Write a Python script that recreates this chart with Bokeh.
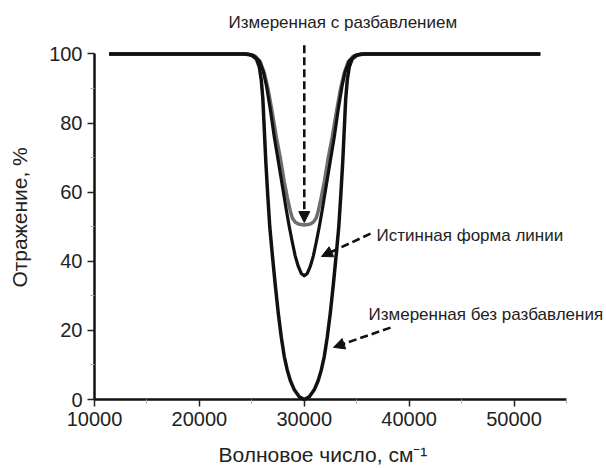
import math
from bokeh.plotting import figure
from bokeh.models import Range1d, FixedTicker, Label, Arrow, NormalHead
from bokeh.embed import file_html
from bokeh.resources import INLINE

# ---- data (wavenumber, cm-1 ; reflectance, %) ----
wn_diluted = [11400, 24660, 25330, 25810, 26190, 26570, 26950, 27330, 27710, 28090, 28380,
              28670, 28860, 29140, 29520, 30000, 30480, 30860, 31140, 31330, 31620, 31910,
              32290, 32670, 33050, 33430, 33810, 34190, 34670, 35340, 52500]
refl_diluted = [100, 100, 99.4, 97.7, 94.5, 89.5, 83, 76, 70, 63, 58.5,
                54.5, 52.5, 51.3, 50.7, 50.5, 50.7, 51.3, 52.5, 54.5, 58.5, 63,
                70, 76, 83, 89.5, 94.5, 97.7, 99.4, 100, 100]

wn_true = [11400, 24470, 25140, 25710, 26090, 26380, 26760, 27140, 27520, 27900, 28280,
           28570, 28860, 29140, 29430, 29710, 30000, 30290, 30570, 30860, 31140, 31430,
           31720, 32100, 32480, 32860, 33240, 33620, 33910, 34290, 34860, 35530, 52500]
refl_true = [100, 100, 99.6, 98, 95, 91, 84, 76, 69, 62, 55,
             50, 45.5, 41.5, 38.5, 36.5, 35.8, 36.5, 38.5, 41.5, 45.5, 50,
             55, 62, 69, 76, 84, 91, 95, 98, 99.6, 100, 100]

wn_undiluted = [11400, 24280, 24950, 25430, 25710, 25900, 26050, 26190, 26330, 26520, 26710,
                26950, 27240, 27520, 27810, 28090, 28380, 28670, 29050, 29520, 30000, 30480,
                30950, 31330, 31620, 31910, 32190, 32480, 32760, 33050, 33290, 33480, 33670,
                33810, 33950, 34100, 34290, 34570, 35050, 35720, 52500]
refl_undiluted = [100, 100, 99.7, 98.6, 96.3, 92.5, 87, 78, 69, 59, 50,
                  42, 33, 25, 18, 12.5, 8.5, 5.5, 2.8, 0.8, 0, 0.8,
                  2.8, 5.5, 8.5, 12.5, 18, 25, 33, 42, 50, 59, 69,
                  78, 87, 92.5, 96.3, 98.6, 99.7, 100, 100]

x_ticks = [10000, 20000, 30000, 40000, 50000]
x_minor = [15000, 25000, 35000, 45000, 55000]
y_ticks = [0, 20, 40, 60, 80, 100]
y_minor = [10, 30, 50, 70, 90]

label_diluted = "Измеренная с разбавлением"
label_true = "Истинная форма линии"
label_undiluted = "Измеренная без разбавления"
x_title = "Волновое число, см⁻¹"
y_title = "Отражение, %"

FONT = "Liberation Sans"
TXT = "#222222"

p = figure(width=606, height=468, output_backend="svg", toolbar_location=None,
           x_range=Range1d(1038, 58814), y_range=Range1d(-19.97, 115.48), min_border=0)
p.outline_line_color = None
p.xgrid.visible = False
p.ygrid.visible = False
p.background_fill_color = "white"
p.border_fill_color = "white"

for ax, ticks, minor, bnds, loc in ((p.xaxis[0], x_ticks, x_minor, (10000, 55000), 0),
                                    (p.yaxis[0], y_ticks, y_minor, (0, 100), 10000)):
    ax.fixed_location = loc
    ax.ticker = FixedTicker(ticks=ticks, minor_ticks=minor)
    ax.bounds = bnds
    ax.axis_line_width = 2.5
    ax.axis_line_color = "#111111"
    ax.major_tick_out = 7
    ax.major_tick_in = 0
    ax.major_tick_line_width = 1.5
    ax.major_tick_line_color = "#222222"
    ax.minor_tick_out = 4
    ax.minor_tick_in = 0
    ax.minor_tick_line_width = 1
    ax.minor_tick_line_color = "#aaaaaa"
    ax.major_label_text_font = FONT
    ax.major_label_text_font_size = "20px"
    ax.major_label_text_color = TXT
    ax.major_label_standoff = 5

p.line(wn_diluted, refl_diluted, line_color="#6e6e6e", line_width=3.5, line_join="round")
p.line(wn_true, refl_true, line_color="#111111", line_width=3.2, line_join="round")
p.line(wn_undiluted, refl_undiluted, line_color="#111111", line_width=3.5, line_join="round")

def head():
    return NormalHead(size=11, fill_color="#111111", line_color="#111111", line_width=1)

p.add_layout(Arrow(end=head(), x_start=30000, y_start=102.5, x_end=30000, y_end=51.2,
                   line_dash="8 4", line_width=2.6, line_color="#111111"))
p.add_layout(Arrow(end=head(), x_start=36314, y_start=48.0, x_end=31642, y_end=41.4,
                   line_dash="8 4", line_width=2.6, line_color="#111111"))
p.add_layout(Arrow(end=head(), x_start=38221, y_start=20.8, x_end=32786, y_end=15.1,
                   line_dash="8 4", line_width=2.6, line_color="#111111"))

for txt, x, y in ((label_diluted, 22776, 109.1), (label_true, 36886, 47.4),
                  (label_undiluted, 36123, 24.7)):
    p.add_layout(Label(x=x, y=y, text=txt, text_font=FONT, text_font_size="17px",
                       text_color=TXT, text_align="left", text_baseline="alphabetic"))

p.add_layout(Label(x=21822, y=-16.0, text=x_title, text_font=FONT, text_font_size="21px",
                   text_color=TXT, text_align="left", text_baseline="alphabetic"))
p.add_layout(Label(x=2897, y=52.7, text=y_title, angle=math.pi / 2, text_font=FONT,
                   text_font_size="21px", text_color=TXT, text_align="center",
                   text_baseline="alphabetic"))

open("out.html", "w").write(file_html(p, INLINE))
